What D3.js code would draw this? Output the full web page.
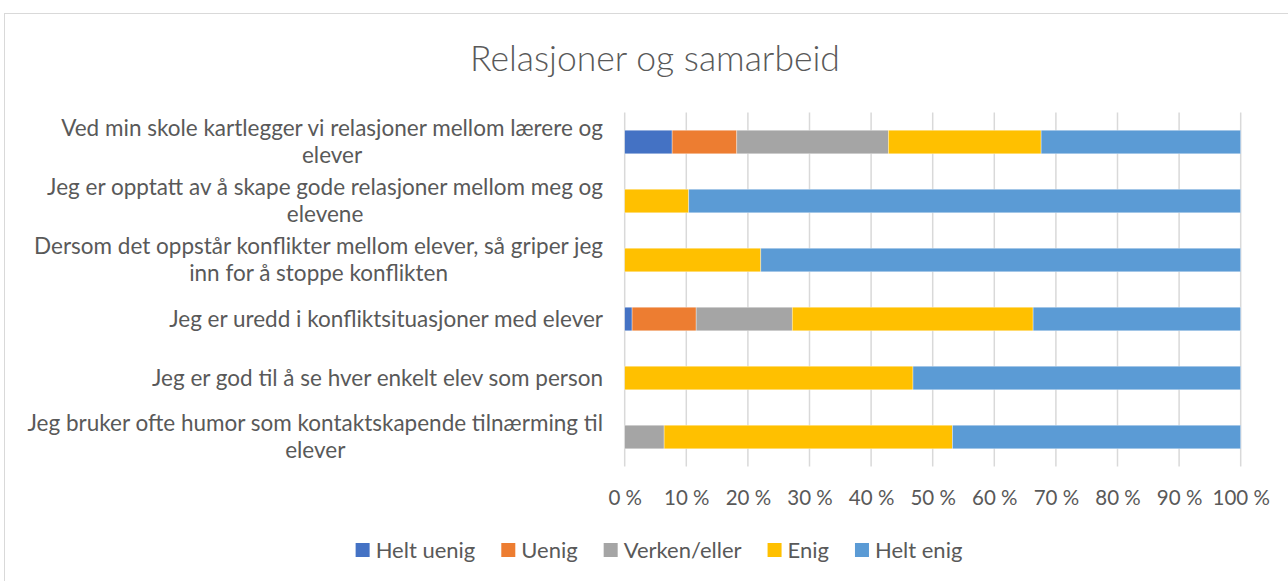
<!DOCTYPE html>
<html>
<head>
<meta charset="utf-8">
<script src="https://cdn.jsdelivr.net/npm/d3@7"></script>
<style>
  body { margin: 0; background: #fff; }
  svg text { font-family: Lato, "Open Sans", sans-serif; fill: #595959; }
</style>
</head>
<body>
<div id="wrapper"></div>
<script>
// categories, top to bottom (line breaks as in the original)
const categories = [
  "Ved min skole kartlegger vi relasjoner mellom lærere og\nelever",
  "Jeg er opptatt av å skape gode relasjoner mellom meg og\nelevene",
  "Dersom det oppstår konflikter mellom elever, så griper jeg\ninn for å stoppe konflikten",
  "Jeg er uredd i konfliktsituasjoner med elever",
  "Jeg er god til å se hver enkelt elev som person",
  "Jeg bruker ofte humor som kontaktskapende tilnærming til\nelever"
];
const seriesNames = ["Helt uenig", "Uenig", "Verken/eller", "Enig", "Helt enig"];
const heltUenig = [7.7, 0, 0, 1.2, 0, 0];
const uenig = [10.5, 0, 0, 10.4, 0, 0];
const verken = [24.6, 0, 0, 15.6, 0, 6.4];
const enig = [24.8, 10.4, 22.1, 39.1, 46.8, 46.8];
const heltEnig = [32.4, 89.6, 77.9, 33.7, 53.2, 46.8];
const xTicks = [0, 10, 20, 30, 40, 50, 60, 70, 80, 90, 100];
const colors = ["#4472c4", "#ed7d31", "#a5a5a5", "#ffc000", "#5b9bd5"];

const width = 1288;
const height = 581;
const plot = { left: 624.7, right: 1240.7, top: 112.5, bottom: 466.5 };

const dataset = categories.map((c, i) => ({
  cat: c,
  "Helt uenig": heltUenig[i],
  "Uenig": uenig[i],
  "Verken/eller": verken[i],
  "Enig": enig[i],
  "Helt enig": heltEnig[i]
}));

const svg = d3.select("#wrapper")
  .append("svg")
  .attr("width", width)
  .attr("height", height);

// chart frame
svg.append("rect")
  .attr("x", 4.5).attr("y", 13.5)
  .attr("width", 1400).attr("height", 700)
  .attr("fill", "#fff")
  .attr("stroke", "#d9d9d9")
  .attr("stroke-width", 1);

const xScale = d3.scaleLinear()
  .domain([0, 100])
  .range([plot.left, plot.right]);

const yScale = d3.scaleBand()
  .domain(categories)
  .range([plot.top, plot.bottom])
  .paddingInner(0.6)
  .paddingOuter(0.3);

// gridlines
svg.append("g")
  .selectAll("line")
  .data(xTicks)
  .join("line")
  .attr("x1", d => xScale(d)).attr("x2", d => xScale(d))
  .attr("y1", plot.top).attr("y2", plot.bottom)
  .attr("stroke", "#d9d9d9")
  .attr("stroke-width", 1.5);

// stacked bars
const stack = d3.stack().keys(seriesNames);
const layers = stack(dataset);

svg.append("g")
  .selectAll("g")
  .data(layers)
  .join("g")
  .attr("fill", (d, i) => colors[i])
  .selectAll("rect")
  .data(d => d.filter(s => s[1] - s[0] > 0))
  .join("rect")
  .attr("x", d => xScale(d[0]))
  .attr("y", d => yScale(d.data.cat))
  .attr("width", d => xScale(d[1]) - xScale(d[0]))
  .attr("height", yScale.bandwidth())
  .attr("stroke", "#fff")
  .attr("stroke-opacity", 0.6)
  .attr("stroke-width", 0.6);

// x axis tick labels
const xAxis = d3.axisBottom(xScale)
  .tickValues(xTicks)
  .tickSize(0)
  .tickFormat(d => d + " %");

svg.append("g")
  .attr("transform", `translate(0, ${plot.bottom})`)
  .call(xAxis)
  .call(g => g.select(".domain").remove())
  .selectAll("text")
  .attr("y", 31.5)
  .attr("dy", "0.35em")
  .style("font-size", "20.5px")
  .style("font-family", "Lato")
  .attr("fill", "#595959");

// category labels: each block right-aligned, lines centered inside it
const labelRight = 603;
const lineH = 27;
const labels = svg.append("g")
  .selectAll("text")
  .data(categories)
  .join("text")
  .style("font-size", "22.5px")
  .attr("text-anchor", "middle");

labels.each(function (d) {
  const t = d3.select(this);
  const lines = d.split("\n");
  const cy = yScale(d) + yScale.bandwidth() / 2;
  lines.forEach((ln, k) => {
    t.append("tspan")
      .attr("y", cy + (k - (lines.length - 1) / 2) * lineH)
      .attr("dy", "0.35em")
      .text(ln);
  });
  let w = 0;
  t.selectAll("tspan").each(function () {
    w = Math.max(w, this.getComputedTextLength());
  });
  t.selectAll("tspan").attr("x", labelRight - w / 2);
});

// title
svg.append("text")
  .attr("x", 655)
  .attr("y", 70.5)
  .attr("text-anchor", "middle")
  .style("font-size", "35.5px")
  .style("font-weight", 300)
  .text("Relasjoner og samarbeid");

// legend
const legend = svg.append("g");
const items = legend.selectAll("g")
  .data(seriesNames)
  .join("g");

items.append("rect")
  .attr("width", 14).attr("height", 14)
  .attr("y", -7)
  .attr("fill", (d, i) => colors[i]);

items.append("text")
  .attr("x", 20)
  .attr("dy", "0.35em")
  .style("font-size", "22px")
  .text(d => d);

let xPos = 0;
items.each(function () {
  const tw = d3.select(this).select("text").node().getComputedTextLength();
  d3.select(this).attr("transform", `translate(${xPos}, 0)`);
  xPos += 20 + tw + 26;
});
const legendW = xPos - 26;
legend.attr("transform", `translate(${659 - legendW / 2}, 550)`);
</script>
</body>
</html>
